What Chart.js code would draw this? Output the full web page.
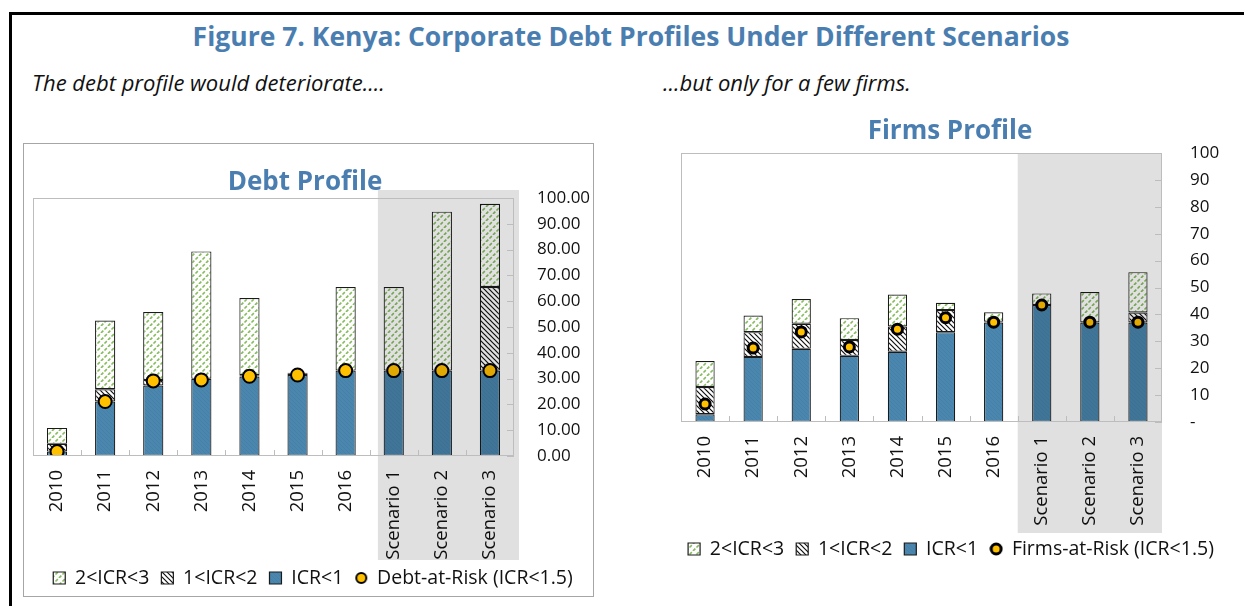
<!DOCTYPE html>
<html>
<head>
<meta charset="utf-8">
<script src="https://cdn.jsdelivr.net/npm/chart.js@4.4.1/dist/chart.umd.min.js"></script>
<style>
  body { margin: 0; width: 1244px; height: 606px; background: #fff; position: relative; overflow: hidden; font-family: 'Open Sans', sans-serif; }
  .frame { position: absolute; left: 9px; top: 12px; right: -4px; bottom: -4px; border-top: 3px solid #000; border-left: 3px solid #000; }
  h1 { position: absolute; top: 18px; left: 0; width: 1262px; margin: 0; text-align: center; font-size: 26.5px; font-weight: 700; color: #4a7eb0; }
  .sub { position: absolute; top: 67px; margin: 0; font-style: italic; font-size: 22px; color: #111; }
  .box { position: absolute; left: 23px; top: 143px; width: 569px; height: 452px; border: 1.5px solid #a6a6a6; }
  #debtChart { position: absolute; left: 24px; top: 144px; }
  #firmsChart { position: absolute; left: 651px; top: 110px; }
</style>
</head>
<body>
<div class="frame"></div>
<h1>Figure 7. Kenya: Corporate Debt Profiles Under Different Scenarios</h1>
<p class="sub" style="left:32px">The debt profile would deteriorate....</p>
<p class="sub" style="left:663px">...but only for a few firms.</p>
<div class="box"></div>
<canvas id="debtChart" width="573" height="470"></canvas>
<canvas id="firmsChart" width="590" height="472"></canvas>

<script>
// categories shared by both panels
const categories = ['2010', '2011', '2012', '2013', '2014', '2015', '2016', 'Scenario 1', 'Scenario 2', 'Scenario 3'];

// Debt profile (share of debt, %)
const debtBelow1 = [1.7, 21.1, 27.3, 29.9, 30.8, 31.4, 33.1, 33.1, 33.1, 33.1];
const debt1to2   = [3.0, 4.8, 2.2, 0, 0.5, 0.5, 0, 0, 0, 32.4];
const debt2to3   = [6.2, 26.6, 26.3, 49.4, 29.9, 0.4, 32.4, 32.4, 61.6, 32.3];
const debtAtRisk = [1.7, 21.1, 29.1, 29.5, 30.9, 31.4, 33.1, 33.1, 33.1, 33.1];

// Firms profile (share of firms, %)
const firmsBelow1 = [2.9, 24.2, 27.2, 24.6, 26.1, 33.4, 37.0, 43.5, 37.0, 37.0];
const firms1to2   = [10.1, 9.2, 9.3, 5.9, 9.4, 8.2, 0.3, 0, 0, 3.7];
const firms2to3   = [9.7, 6.2, 9.2, 8.1, 11.9, 2.7, 3.5, 4.3, 11.3, 15.0];
const firmsAtRisk = [6.7, 27.5, 33.5, 27.9, 34.5, 38.8, 37.1, 43.5, 37.1, 37.1];

const Y_MIN = 0, Y_MAX = 100, Y_STEP = 10;

Chart.defaults.font.family = "'Open Sans', sans-serif";
Chart.defaults.color = '#111';

const TITLE_BLUE = '#4a7eb0';
const LEGEND_FONT = 19.5;

// ─── hatch fills ─────────────────────────────────────────────
function makePattern(size, bg, draw) {
    const c = document.createElement('canvas');
    c.width = c.height = size;
    const g = c.getContext('2d');
    g.fillStyle = bg;
    g.fillRect(0, 0, size, size);
    draw(g, size);
    return g.createPattern(c, 'repeat');
}

// green dashed "/" lines
const greenHatch = makePattern(7, '#ffffff', (g, s) => {
    g.strokeStyle = '#86bc5e';
    g.lineWidth = 1.6;
    g.setLineDash([3.3, 1.65]);
    for (const o of [-s, 0, s]) {
        g.beginPath();
        g.moveTo(o, s);
        g.lineTo(o + s, 0);
        g.stroke();
    }
});

// black "\" lines
const blackHatch = makePattern(5, '#ffffff', (g, s) => {
    g.strokeStyle = '#111';
    g.lineWidth = 1.2;
    for (const o of [-s, 0, s]) {
        g.beginPath();
        g.moveTo(o - 1, -1);
        g.lineTo(o + s + 1, s + 1);
        g.stroke();
    }
});

// blue with a faint texture
const blueFill = makePattern(4, '#4a86ae', (g, s) => {
    g.strokeStyle = '#4680a7';
    g.lineWidth = 1;
    for (const o of [-s, 0, s]) {
        g.beginPath();
        g.moveTo(o - 1, -1);
        g.lineTo(o + s + 1, s + 1);
        g.stroke();
    }
});

function dotIcon(border) {
    const c = document.createElement('canvas');
    c.width = c.height = 14;
    const g = c.getContext('2d');
    g.beginPath();
    g.arc(7, 7, 5, 0, Math.PI * 2);
    g.fillStyle = '#ffc000';
    g.fill();
    g.lineWidth = border;
    g.strokeStyle = '#000';
    g.stroke();
    return c;
}

// shaded scenario block, plot border and inside tick marks;
// also moves the title and legend boxes after layout
const plotFrame = {
    id: 'plotFrame',
    afterLayout(chart, args, opts) {
        const lg = chart.legend, tb = chart.titleBlock;
        if (lg) {
            const dy = opts.legendY - (lg.top + lg.options.labels.padding + LEGEND_FONT / 2);
            lg.top += dy; lg.bottom += dy;
            lg.left += opts.legendShiftX; lg.right += opts.legendShiftX;
        }
        if (tb) { tb.left += opts.titleShift; tb.right += opts.titleShift; }
    },
    afterDatasetsDraw(chart, args, opts) {
        const { ctx, chartArea: a, scales: { x, y } } = chart;
        ctx.save();
        const sx = x.getPixelForValue(opts.shadeFrom);
        const top = a.top - opts.shadeAbove;
        ctx.fillStyle = 'rgba(0, 0, 0, 0.12)';
        ctx.fillRect(sx, top, a.right + opts.shadeRight - sx, a.bottom + opts.shadeBelow - top);

        ctx.strokeStyle = '#bdbdbd';
        ctx.lineWidth = 1;
        ctx.strokeRect(a.left + 0.5, a.top + 0.5, a.right - a.left - 1, a.bottom - a.top - 1);
        ctx.beginPath();
        y.ticks.forEach((t, i) => {
            const py = Math.round(y.getPixelForTick(i)) + 0.5;
            ctx.moveTo(a.right - 7, py);
            ctx.lineTo(a.right, py);
        });
        for (let i = 1; i < categories.length; i++) {
            const px = Math.round(x.getPixelForValue(i - 0.5)) + 0.5;
            ctx.moveTo(px, a.bottom - 6);
            ctx.lineTo(px, a.bottom);
        }
        ctx.stroke();
        ctx.restore();
    }
};

function buildChart(el, cfg) {
    const barCommon = {
        type: 'bar',
        borderColor: '#1a1a1a',
        borderWidth: 1.2,
        borderSkipped: false,
        barPercentage: cfg.barPct,
        categoryPercentage: 1,
        stack: 'icr'
    };
    return new Chart(el, {
        data: {
            labels: categories,
            datasets: [
                {
                    type: 'line',
                    label: cfg.riskLabel,
                    data: cfg.risk,
                    showLine: false,
                    stack: 'risk',
                    pointRadius: cfg.dotRadius,
                    pointHoverRadius: cfg.dotRadius,
                    pointBorderWidth: cfg.dotBorder,
                    pointBackgroundColor: '#ffc000',
                    pointBorderColor: '#000'
                },
                { ...barCommon, label: 'ICR<1', data: cfg.below1, backgroundColor: blueFill },
                { ...barCommon, label: '1<ICR<2', data: cfg.mid, backgroundColor: blackHatch },
                { ...barCommon, label: '2<ICR<3', data: cfg.high, backgroundColor: greenHatch }
            ]
        },
        options: {
            responsive: false,
            animation: false,
            layout: { padding: cfg.padding },
            plugins: {
                title: {
                    display: true,
                    text: cfg.title,
                    color: TITLE_BLUE,
                    font: { size: 26, weight: 'bold' },
                    padding: { top: 0, bottom: cfg.titleGap }
                },
                legend: {
                    position: 'bottom',
                    labels: {
                        usePointStyle: true,
                        boxWidth: 12,
                        boxHeight: 12,
                        padding: 12,
                        font: { size: LEGEND_FONT },
                        color: '#111',
                        sort: (a, b) => b.datasetIndex - a.datasetIndex,
                        generateLabels(chart) {
                            const items = Chart.defaults.plugins.legend.labels.generateLabels(chart);
                            items.forEach(it => {
                                it.pointStyle = it.datasetIndex === 0 ? dotIcon(cfg.dotBorder) : 'rect';
                            });
                            return items;
                        }
                    }
                },
                tooltip: { enabled: false },
                plotFrame: cfg.frame
            },
            scales: {
                x: {
                    stacked: true,
                    grid: { display: false, drawTicks: false },
                    border: { display: false },
                    ticks: { autoSkip: false, minRotation: 90, maxRotation: 90, padding: 14, font: { size: 18.5 } },
                    // put the plot bottom where wanted, whatever the legend height
                    afterFit: s => {
                        s.height = s.chart.height - cfg.padding.bottom - s.chart.legend.height - cfg.plotBottom;
                    }
                },
                y: {
                    stacked: true,
                    position: 'right',
                    min: Y_MIN,
                    max: Y_MAX,
                    grid: { display: false, drawTicks: false },
                    border: { display: false },
                    ticks: { stepSize: Y_STEP, autoSkip: false, padding: cfg.yPad, font: { size: 17 }, callback: cfg.tickFmt },
                    afterFit: s => { s.width = cfg.yWidth; }
                }
            }
        },
        plugins: [plotFrame]
    });
}

buildChart(document.getElementById('debtChart'), {
    title: 'Debt Profile',
    riskLabel: 'Debt-at-Risk (ICR<1.5)',
    below1: debtBelow1, mid: debt1to2, high: debt2to3, risk: debtAtRisk,
    barPct: 0.42,
    dotRadius: 6.5, dotBorder: 2,
    padding: { left: 9, right: 4, top: 22.8, bottom: 0 },
    titleGap: 0,
    plotBottom: 312,
    yWidth: 79, yPad: 23,
    tickFmt: v => v.toFixed(2),
    frame: { shadeFrom: 6.67, shadeAbove: 8, shadeRight: 5, shadeBelow: 104, legendY: 434, legendShiftX: 0, titleShift: -8 }
});

buildChart(document.getElementById('firmsChart'), {
    title: 'Firms Profile',
    riskLabel: 'Firms-at-Risk (ICR<1.5)',
    below1: firmsBelow1, mid: firms1to2, high: firms2to3, risk: firmsAtRisk,
    barPct: 0.4,
    dotRadius: 5, dotBorder: 3,
    padding: { left: 30, right: 4, top: 6.4, bottom: 0 },
    titleGap: 5.4,
    plotBottom: 312,
    yWidth: 75, yPad: 28,
    tickFmt: v => v === 0 ? '-' : v,
    frame: { shadeFrom: 6.5, shadeAbove: 0, shadeRight: 0, shadeBelow: 111, legendY: 439, legendShiftX: -8, titleShift: -9 }
});
</script>
</body>
</html>
